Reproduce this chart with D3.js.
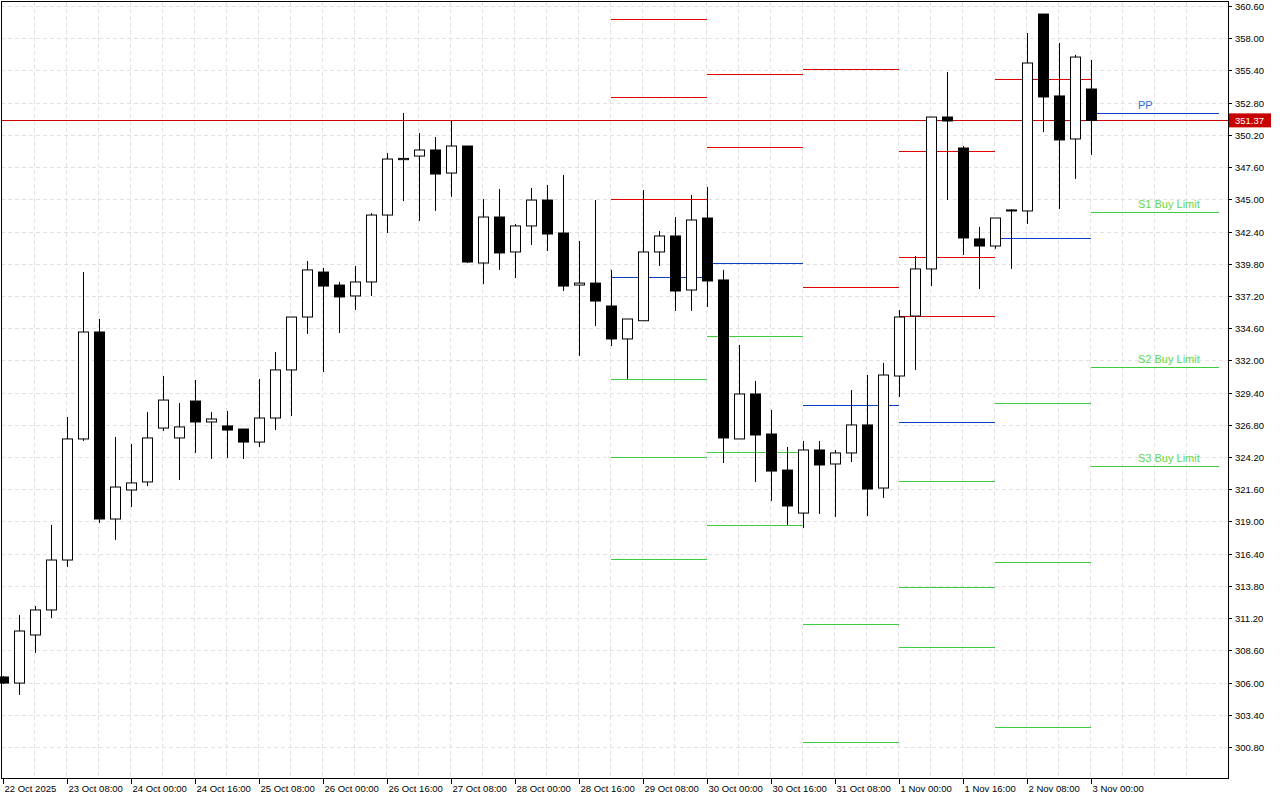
<!DOCTYPE html>
<html><head><meta charset="utf-8">
<script src="https://cdn.jsdelivr.net/npm/d3@7"></script>
<style>body{margin:0;background:#fff}svg{display:block}text{font-family:"Liberation Sans",Arial,sans-serif;font-size:9.5px}</style>
</head><body><svg id="c" width="1280" height="800"></svg>
<script>
const opens  = [306.45,305.96,309.84,311.86,315.89,325.66,334.29,319.2,321.54,322.19,326.54,325.74,328.72,327.03,326.71,326.46,325.41,327.35,331.23,335.5,339.13,338.08,337.2,338.33,343.73,348.2,348.49,348.98,347.12,349.3,339.86,343.57,340.75,342.85,344.94,342.28,338.08,338.24,336.39,333.73,335.2,340.75,342.04,337.68,343.49,338.49,325.66,329.29,326.06,323.15,319.68,324.77,323.64,324.53,326.79,321.7,330.74,335.58,339.38,351.64,349.14,341.8,341.23,344.06,344.06,359.95,353.34,349.87,353.9];
const highs  = [306.53,311.45,312.18,318.72,327.43,339.13,335.34,325.82,325.25,327.84,330.74,328.56,330.42,327.84,327.92,326.46,330.5,332.68,335.5,340.02,339.46,338.33,339.62,343.89,348.74,351.97,350.35,350.03,351.32,349.3,345.02,345.83,343.01,345.91,346.15,346.96,341.64,344.94,339.3,335.34,345.75,342.44,343.57,345.35,346.0,339.3,333.24,330.34,328.0,325.01,325.5,325.5,324.77,329.61,330.82,331.79,336.07,340.42,351.64,355.27,349.3,342.77,343.49,344.2,358.42,359.95,357.61,356.65,356.24];
const lows   = [305.88,305.0,308.39,311.21,315.33,325.5,318.88,317.51,320.17,321.86,326.3,322.35,324.53,324.04,324.12,324.04,325.01,326.38,327.51,334.13,331.06,334.21,336.07,337.2,342.28,344.86,343.25,344.06,345.19,339.86,338.16,339.3,338.65,341.31,340.83,337.6,332.36,334.78,333.16,330.5,335.2,339.62,335.99,335.99,336.31,323.72,325.66,322.19,320.65,318.72,318.47,319.6,319.36,323.8,319.44,320.9,329.05,331.23,338.0,344.94,340.51,337.76,341.0,339.38,343.01,350.43,344.22,346.64,348.58];
const closes = [305.96,310.16,311.86,315.89,325.66,334.29,319.2,321.78,322.11,325.74,328.8,326.63,327.03,327.27,326.38,325.41,327.35,331.23,335.5,339.3,338.0,337.12,338.33,343.73,348.25,348.3,348.98,347.04,349.3,339.94,343.57,340.67,342.85,344.94,342.2,338.0,338.24,336.79,333.73,335.34,340.75,342.04,337.6,343.33,338.41,325.74,329.29,325.98,323.07,320.25,324.77,323.56,324.53,326.79,321.62,330.82,335.5,339.38,351.64,351.32,341.88,341.23,343.49,344.14,356.0,353.26,349.79,356.48,351.37];
const xLabels = ["22 Oct 2025","23 Oct 08:00","24 Oct 00:00","24 Oct 16:00","25 Oct 08:00","26 Oct 00:00","26 Oct 16:00","27 Oct 08:00","28 Oct 00:00","28 Oct 16:00","29 Oct 08:00","30 Oct 00:00","30 Oct 16:00","31 Oct 08:00","1 Nov 00:00","1 Nov 16:00","2 Nov 08:00","3 Nov 00:00"];
const yTicks = d3.range(0,24).map(k=>+(300.8+2.6*k).toFixed(2));
const lastPrice = 351.37;
const segStart = [38,44,50,56,62,68];
const segEnd   = [44,50,56,62,68,76];
const segRes   = [[359.55,353.26,345.02],[355.11,349.22],[355.52,337.92],[348.9,340.34,335.58],[354.71],[]];
const segPP    = [338.73,339.86,328.4,327.03,341.88,351.96];
const segSup   = [[330.5,324.21,315.98],[333.97,324.61,318.72],[310.73,301.2],[322.27,313.71,308.87],[328.56,315.73,302.41],[343.98,331.47,323.48]];
const lastLabels = ["PP","S1 Buy Limit","S2 Buy Limit","S3 Buy Limit"];

const svg = d3.select("#c");
const L=1, R=1228, T=2, B=779;
const x = d3.scaleLinear().domain([0,76]).range([3,1219]);
const y = d3.scaleLinear().domain([300.8,360.6]).range([747,6]);

const g = svg.append("g");
g.selectAll(".hg").data(yTicks).join("line").attr("x1",L).attr("x2",R).attr("y1",d=>Math.round(y(d))+.5).attr("y2",d=>Math.round(y(d))+.5).attr("stroke","#e2e2e2").attr("stroke-dasharray","4,3");
g.selectAll(".vg").data(d3.range(2,76,2)).join("line").attr("y1",T).attr("y2",B).attr("x1",d=>Math.round(x(d))-.5).attr("x2",d=>Math.round(x(d))-.5).attr("stroke","#e2e2e2").attr("stroke-dasharray","4,3");

segStart.forEach((s,k)=>{
  const x1=x(s), x2=x(segEnd[k]);
  const add=(v,c)=>svg.append("line").attr("x1",x1).attr("x2",x2).attr("y1",Math.round(y(v))+.5).attr("y2",Math.round(y(v))+.5).attr("stroke",c).attr("stroke-width",1.2);
  segRes[k].forEach(v=>add(v,"#e00000"));
  add(segPP[k],"#0a3fc4");
  segSup[k].forEach(v=>add(v,"#3ccc3c"));
});
const lk=segStart.length-1, lx=x(segStart[lk])+47;
[segPP[lk],...segSup[lk]].forEach((v,i)=>{
  svg.append("text").attr("x",lx).attr("y",y(v)-4).attr("text-anchor","start").style("font-size","11px")
   .attr("fill",i===0?"#2a6fdc":"#5ed84a").text(lastLabels[i]);
});

svg.append("line").attr("x1",L).attr("x2",R).attr("y1",Math.round(y(lastPrice))+.5).attr("y2",Math.round(y(lastPrice))+.5).attr("stroke","#d00000");

const data = opens.map((o,i)=>({i,o,h:highs[i],l:lows[i],c:closes[i]}));
const cg = svg.append("g");
data.forEach(d=>{
  const cx=Math.round(x(d.i))+.5;
  cg.append("line").attr("x1",cx).attr("x2",cx).attr("y1",y(d.h)).attr("y2",y(d.l)).attr("stroke","#000");
  const top=y(Math.max(d.o,d.c)), bot=y(Math.min(d.o,d.c));
  cg.append("rect").attr("x",cx-5).attr("width",10).attr("y",top).attr("height",Math.max(1,bot-top))
    .attr("fill",d.c<d.o?"#000":"#fff").attr("stroke","#000").attr("stroke-width",1);
});

svg.append("rect").attr("x",L+.5).attr("y",T-.5).attr("width",R-L).attr("height",B-T).attr("fill","none").attr("stroke","#000");
yTicks.forEach(v=>{
  const yy=Math.round(y(v))+.5;
  svg.append("line").attr("x1",R).attr("x2",R+4).attr("y1",yy).attr("y2",yy).attr("stroke","#000");
  svg.append("text").attr("x",R+7).attr("y",yy+3.5).attr("fill","#000").text(v.toFixed(2));
});
const ly=y(lastPrice);
svg.append("rect").attr("x",R+1).attr("y",ly-7).attr("width",42).attr("height",14).attr("fill","#c80000");
svg.append("text").attr("x",R+7).attr("y",ly+4).attr("fill","#fff").text(lastPrice.toFixed(2));
xLabels.forEach((t,k)=>{
  const xx=Math.round(x(k*4))+.5;
  svg.append("line").attr("x1",xx).attr("x2",xx).attr("y1",B).attr("y2",B+5).attr("stroke","#000");
  svg.append("text").attr("x",xx+1).attr("y",B+13).attr("fill","#000").text(t);
});
</script></body></html>
